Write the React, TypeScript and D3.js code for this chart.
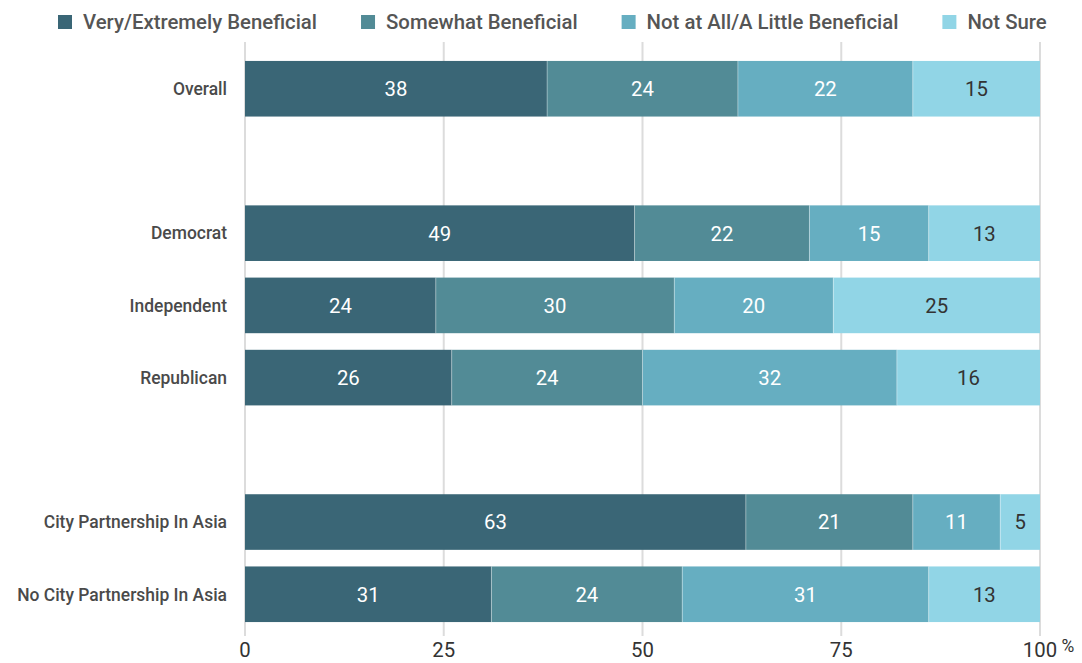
import React, { useEffect, useRef } from "react";
import * as d3 from "d3";

const categories = ["Overall", "", "Democrat", "Independent", "Republican", " ", "City Partnership In Asia", "No City Partnership In Asia"];
const rowCategories = ["Overall", "Democrat", "Independent", "Republican", "City Partnership In Asia", "No City Partnership In Asia"];
const seriesNames = ["Very/Extremely Beneficial", "Somewhat Beneficial", "Not at All/A Little Beneficial", "Not Sure"];
const veryExtremely = [38, 49, 24, 26, 63, 31];
const somewhat = [24, 22, 30, 24, 21, 24];
const notAtAll = [22, 15, 20, 32, 11, 31];
const notSure = [15, 13, 25, 16, 5, 13];
const xTicks = [0, 25, 50, 75, 100];
const colors = ["#3a6676", "#528b96", "#66aec1", "#91d5e6"];
const labelColors = ["#ffffff", "#ffffff", "#ffffff", "#333333"];

const W = 1082;
const H = 663;
const FONT = "Roboto, 'DejaVu Sans Condensed', sans-serif";
const SX = 0.97;

function CText(props: { x: number; y: number; anchor?: string; size: number; weight?: number; fill: string; children: any; className?: string }) {
  return (
    <text
      className={props.className}
      transform={`translate(${props.x},${props.y}) scale(${SX},1)`}
      dy="0.35em"
      textAnchor={props.anchor || "start"}
      fontSize={props.size}
      fontWeight={props.weight || 400}
      fill={props.fill}
    >
      {props.children}
    </text>
  );
}

export default function App() {
  const legendRef = useRef<SVGGElement>(null);
  const x = d3.scaleLinear().domain([0, 100]).range([245, 1040]);
  const y = d3.scaleBand().domain(categories).range([53, 630]).paddingInner(0.23).paddingOuter(0.11);
  const seriesVals = [veryExtremely, somewhat, notAtAll, notSure];
  const rows = rowCategories.map((cat, i) => {
    let cum = 0;
    const segs = seriesVals.map((s, k) => {
      const x0 = cum;
      cum += s[i];
      const x1 = k === seriesVals.length - 1 ? 100 : cum;
      return { k, v: s[i], x0, x1 };
    });
    return { cat, segs };
  });

  useEffect(() => {
    const g = d3.select(legendRef.current);
    let cx = 58;
    g.selectAll<SVGGElement, unknown>("g.item").each(function () {
      const item = d3.select(this);
      item.attr("transform", `translate(${cx},0)`);
      const t = item.select<SVGTextElement>("text").node();
      const w = t ? t.getComputedTextLength() * SX : 100;
      cx += 25 + w + 44;
    });
  }, []);

  return (
    <svg width={W} height={H} style={{ position: "absolute", left: 0, top: 0, fontFamily: FONT }}>
      <rect width={W} height={H} fill="#ffffff" />
      {xTicks.map((t) => (
        <line key={t} x1={x(t)} x2={x(t)} y1={42} y2={636} stroke="#dcdcdc" strokeWidth={2} />
      ))}
      {rows.map((r) => {
        const yc = (y(r.cat) as number) + y.bandwidth() / 2;
        return (
          <g key={r.cat}>
            {r.segs.map((s) => (
              <g key={s.k}>
                <rect x={x(s.x0)} y={y(r.cat)} width={x(s.x1) - x(s.x0)} height={y.bandwidth()} fill={colors[s.k]} />
                <CText x={(x(s.x0) + x(s.x1)) / 2} y={yc} anchor="middle" size={21} fill={labelColors[s.k]}>
                  {s.v}
                </CText>
              </g>
            ))}
            {r.segs.slice(1).map((s) => (
              <line key={"sep" + s.k} x1={x(s.x0)} x2={x(s.x0)} y1={y(r.cat)} y2={(y(r.cat) as number) + y.bandwidth()} stroke="#ffffff" strokeOpacity={0.35} strokeWidth={1} />
            ))}
            <CText x={227} y={yc} anchor="end" size={18} weight={500} fill="#4a4a4a">
              {r.cat}
            </CText>
          </g>
        );
      })}
      {xTicks.map((t) => (
        <CText key={"l" + t} x={x(t)} y={650} anchor="middle" size={21} fill="#333333">
          {t}
        </CText>
      ))}
      <CText x={1068} y={646} anchor="middle" size={18} fill="#333333">%</CText>
      <g ref={legendRef} transform="translate(0,22)">
        {seriesNames.map((n, i) => (
          <g className="item" key={n}>
            <rect x={0} y={-7} width={14} height={14} fill={colors[i]} />
            <CText x={25} y={0} size={21} weight={500} fill="#555555">
              {n}
            </CText>
          </g>
        ))}
      </g>
    </svg>
  );
}
